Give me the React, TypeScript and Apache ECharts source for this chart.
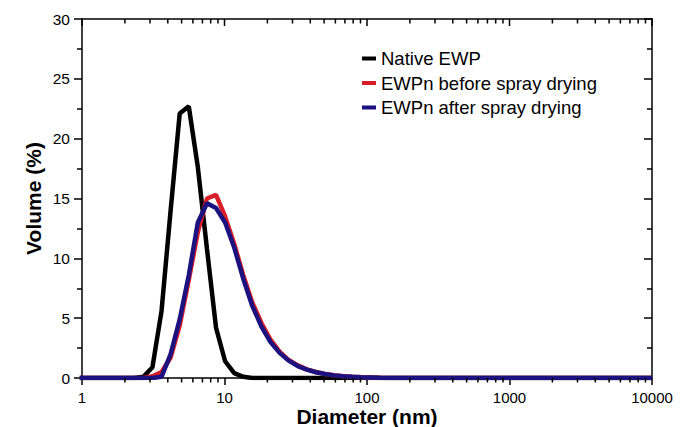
import React, { useEffect, useRef } from "react";
import * as echarts from "echarts";

const diameters = [
  0.9649, 1.117, 1.294, 1.499, 1.736, 2.01, 2.328, 2.696, 3.122, 3.615,
  4.187, 4.849, 5.615, 6.503, 7.531, 8.721, 10.1, 11.7, 13.54, 15.69,
  18.17, 21.04, 24.36, 28.21, 32.67, 37.84, 43.82, 50.75, 58.77, 68.06,
  78.82, 91.28, 105.7, 122.4, 141.8, 164.2, 190.1, 220.2, 255.0, 295.3,
  342.0, 396.1, 458.7, 531.2, 615.1, 712.4, 825.0, 955.4, 1106, 1281,
  1484, 1718, 1990, 2305, 2669, 3091, 3580, 4145, 4801, 5560,
  6439, 7456, 8635, 10000,
];

const nativeEWP = [
  0, 0, 0, 0, 0, 0, 0, 0.1, 0.9, 5.6,
  14.0, 22.1, 22.7, 17.6, 10.8, 4.2, 1.4, 0.4, 0.1, 0,
  0, 0, 0, 0, 0, 0, 0, 0, 0, 0,
  0, 0, 0, 0, 0, 0, 0, 0, 0, 0,
  0, 0, 0, 0, 0, 0, 0, 0, 0, 0,
  0, 0, 0, 0, 0, 0, 0, 0, 0, 0,
  0, 0, 0, 0,
];

const beforeSpray = [
  0, 0, 0, 0, 0, 0, 0, 0, 0.15, 0.5,
  1.7, 4.4, 8.2, 12.2, 15.0, 15.3, 13.5, 11.2, 8.6, 6.3,
  4.6, 3.2, 2.2, 1.5, 1.05, 0.72, 0.5, 0.34, 0.23, 0.15,
  0.1, 0.06, 0.04, 0.02, 0.01, 0, 0, 0, 0, 0,
  0, 0, 0, 0, 0, 0, 0, 0, 0, 0,
  0, 0, 0, 0, 0, 0, 0, 0, 0, 0,
  0, 0, 0, 0,
];

const afterSpray = [
  0, 0, 0, 0, 0, 0, 0, 0, 0, 0.1,
  2.0, 4.9, 8.6, 13.0, 14.6, 14.2, 13.0, 10.9, 8.3, 6.0,
  4.3, 3.0, 2.1, 1.45, 1.0, 0.7, 0.48, 0.33, 0.22, 0.15,
  0.1, 0.06, 0.04, 0.02, 0.01, 0, 0, 0, 0, 0,
  0, 0, 0, 0, 0, 0, 0, 0, 0, 0,
  0, 0, 0, 0, 0, 0, 0, 0, 0, 0,
  0, 0, 0, 0,
];

const seriesNames = ["Native EWP", "EWPn before spray drying", "EWPn after spray drying"];
const seriesColors = ["#000000", "#d81e28", "#1b1280"];

// Tick positions of the log diameter axis (decades and sub-decade minors)
const logMajorTicks = [1, 10, 100, 1000, 10000];
const logMinorTicks = [
  2, 3, 4, 5, 6, 7, 8, 9,
  20, 30, 40, 50, 60, 70, 80, 90,
  200, 300, 400, 500, 600, 700, 800, 900,
  2000, 3000, 4000, 5000, 6000, 7000, 8000, 9000,
];

const FONT = "Liberation Sans, Arial, Helvetica, sans-serif";

export default function App() {
  const ref = useRef<HTMLDivElement>(null);

  useEffect(() => {
    if (!ref.current) return;
    const chart = echarts.init(ref.current, undefined, { renderer: "svg" });
    const pair = (vals: number[]) => diameters.map((d, i) => [d, vals[i]]);
    const tickStyle = { color: "#000", width: 1.5 };

    chart.setOption({
      animation: false,
      backgroundColor: "#fff",
      grid: {
        left: 82,
        right: 36,
        top: 19,
        bottom: 49,
        containLabel: false,
        outerBoundsMode: "none",
      },
      legend: {
        data: seriesNames,
        orient: "vertical",
        left: 357,
        top: 44,
        itemWidth: 14,
        itemHeight: 4,
        itemGap: 5.5,
        icon: "rect",
        textStyle: { fontSize: 18.5, color: "#000", fontFamily: FONT },
      },
      xAxis: [
        {
          type: "log",
          logBase: 10,
          min: 1,
          max: 10000,
          position: "bottom",
          name: "Diameter (nm)",
          nameLocation: "middle",
          nameGap: 28,
          nameMoveOverlap: false,
          nameTextStyle: { fontSize: 21, lineHeight: 21, fontWeight: "bold", color: "#000", fontFamily: FONT },
          axisLine: { show: true, onZero: false, lineStyle: tickStyle },
          axisTick: { show: true, length: 7, inside: false, lineStyle: tickStyle },
          axisLabel: {
            fontSize: 15,
            lineHeight: 15,
            color: "#000",
            fontFamily: FONT,
            margin: 12,
            formatter: (v: number) => String(Math.round(v)),
          },
          splitLine: { show: false },
        },
      ],
      yAxis: [
        {
          type: "value",
          min: 0,
          max: 30,
          interval: 5,
          position: "left",
          name: "Volume (%)",
          nameLocation: "middle",
          nameGap: 38,
          nameMoveOverlap: false,
          nameTextStyle: { fontSize: 21, fontWeight: "bold", color: "#000", fontFamily: FONT },
          axisLine: { show: true, onZero: false, lineStyle: tickStyle },
          axisTick: { show: true, length: 8, inside: false, lineStyle: tickStyle },
          minorTick: { show: true, splitNumber: 2, length: 5, lineStyle: tickStyle },
          axisLabel: { fontSize: 15.5, color: "#000", fontFamily: FONT, margin: 12 },
          splitLine: { show: false },
        },
        {
          type: "value",
          min: 0,
          max: 30,
          interval: 5,
          position: "right",
          axisLine: { show: true, onZero: false, lineStyle: tickStyle },
          axisTick: { show: true, length: 8, inside: true, lineStyle: tickStyle },
          minorTick: { show: true, splitNumber: 2, length: 5, lineStyle: tickStyle },
          axisLabel: { show: false },
          splitLine: { show: false },
        },
      ],
      series: [nativeEWP, beforeSpray, afterSpray].map((vals, i) => ({
        type: "line",
        name: seriesNames[i],
        xAxisIndex: 0,
        yAxisIndex: 0,
        data: pair(vals),
        symbol: "none",
        smooth: false,
        color: seriesColors[i],
        lineStyle: { color: seriesColors[i], width: 4.5 },
      })),
    });

    // Frame top edge and log ticks as thin filled rects, positioned through the axis scales
    const px = (x: number, y: number) =>
      chart.convertToPixel({ xAxisIndex: 0, yAxisIndex: 0 }, [x, y]) as number[];
    const tl = px(1, 30);
    const tr = px(10000, 30);
    const fill = { fill: "#000" };
    const elements: any[] = [
      {
        type: "rect",
        z: 100,
        shape: { x: tl[0] - 0.75, y: tl[1] - 0.75, width: tr[0] - tl[0] + 1.5, height: 1.5 },
        style: fill,
      },
    ];
    logMajorTicks.forEach((v) => {
      const t = px(v, 30);
      elements.push({ type: "rect", z: 100, shape: { x: t[0] - 0.75, y: t[1], width: 1.5, height: 7 }, style: fill });
    });
    logMinorTicks.forEach((v) => {
      const t = px(v, 30);
      const b = px(v, 0);
      elements.push({ type: "rect", z: 100, shape: { x: t[0] - 0.75, y: t[1], width: 1.5, height: 4.5 }, style: fill });
      elements.push({ type: "rect", z: 100, shape: { x: b[0] - 0.75, y: b[1], width: 1.5, height: 4.5 }, style: fill });
    });
    chart.setOption({ graphic: elements });

    return () => chart.dispose();
  }, []);

  return (
    <div
      ref={ref}
      style={{ position: "absolute", left: 0, top: 0, width: 688, height: 427 }}
    />
  );
}
